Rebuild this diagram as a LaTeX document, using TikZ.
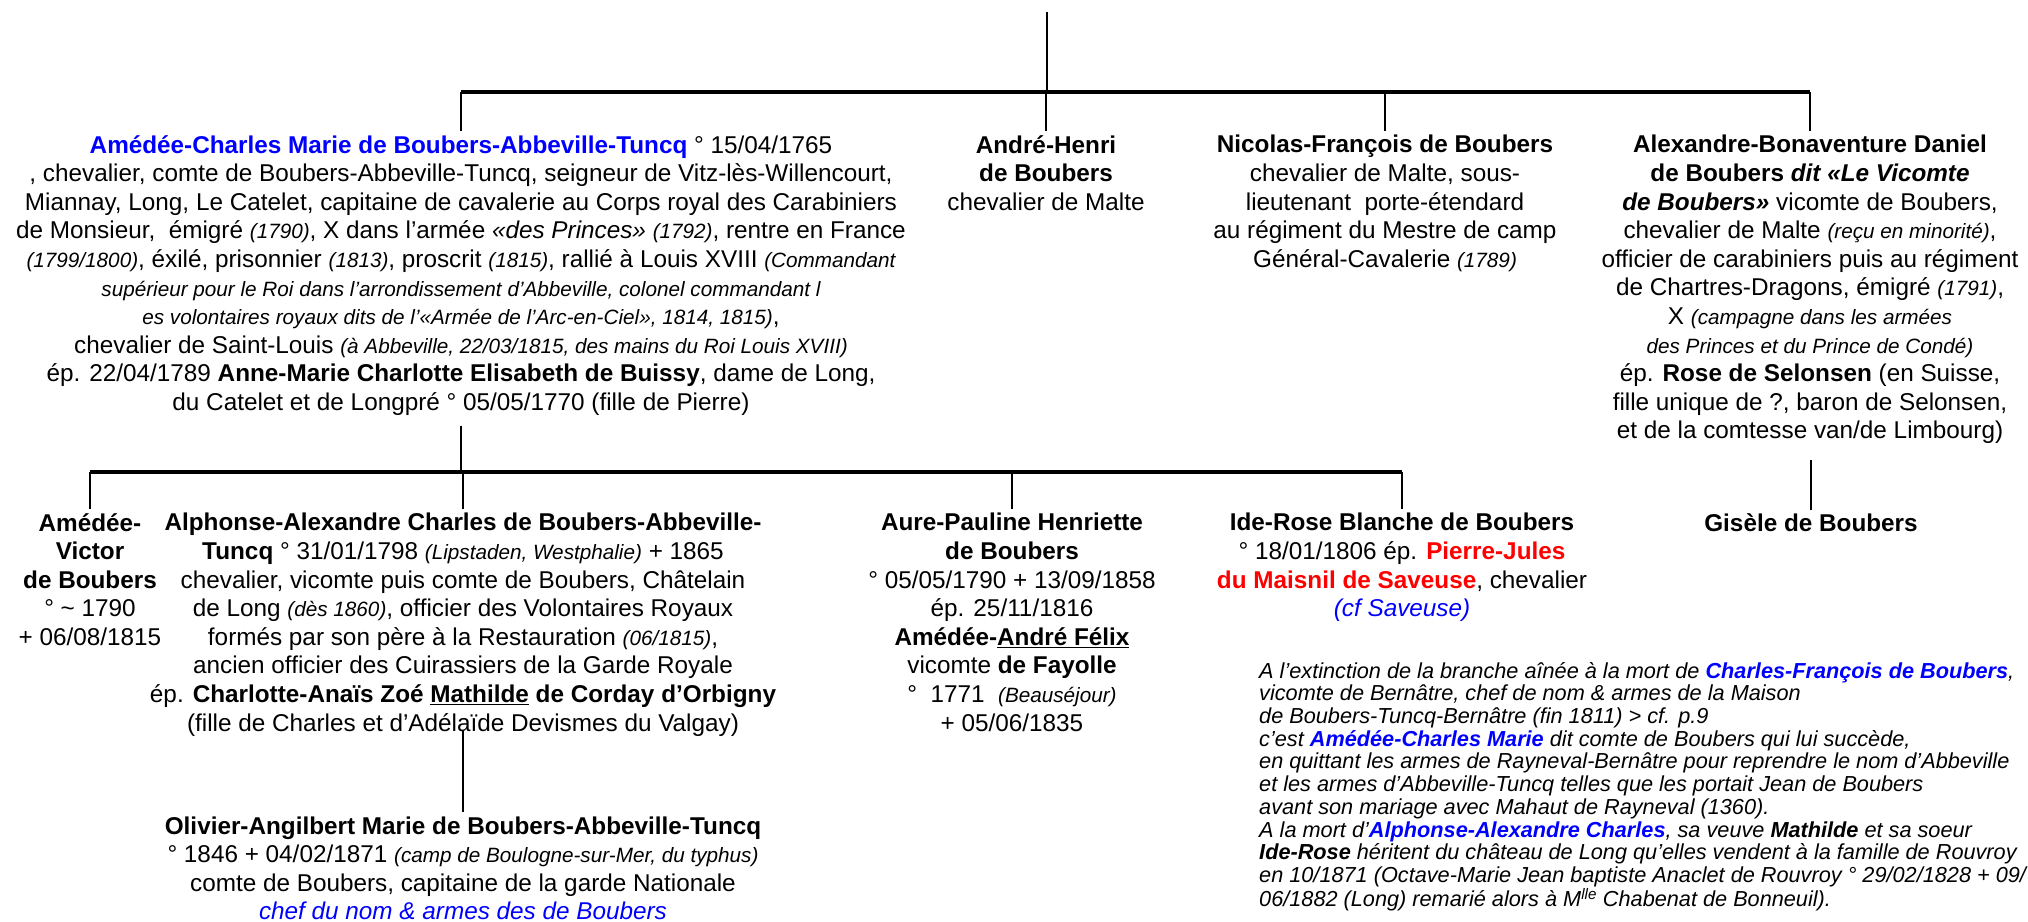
\documentclass[tikz,border=0pt]{standalone}
\usepackage{fontspec}
\setmainfont{Liberation Sans}
\usetikzlibrary{positioning}
\definecolor{nameblue}{RGB}{0,0,255}
\definecolor{namered}{RGB}{255,0,0}
\newcommand{\smit}[1]{{\fontsize{20.7}{28.6}\selectfont\itshape #1}}

\begin{document}
\begin{tikzpicture}[x=1pt, y=-1pt,
    every node/.style={font=\fontsize{24.3}{28.6}\selectfont, align=center, inner sep=0pt},
    person/.style={anchor=north},
    remark/.style={anchor=north west, align=left, font=\fontsize{21.7}{22.7}\selectfont\itshape},
    bar/.style={line width=3.2pt},
    link/.style={line width=2pt},
    drop/.style={link, shorten >=4pt},
  ]
  \useasboundingbox (0,0) rectangle (2028,921);

  % Generation 1: children of the couple above
  \coordinate (parents) at (1047,12);
  \coordinate (fam1) at (1047,92);

  \node[person] (acm) at (461,135)
    {\textbf{\color{nameblue}Amédée-Charles Marie de Boubers-Abbeville-Tuncq} ° 15/04/1765\\
     , chevalier, comte de Boubers-Abbeville-Tuncq, seigneur de Vitz-lès-Willencourt,\\
     Miannay, Long, Le Catelet, capitaine de cavalerie au Corps royal des Carabiniers\\
     de Monsieur,~ émigré \smit{(1790)}, X dans l’armée \textit{«des Princes»} \smit{(1792)}, rentre en France\\
     \smit{(1799/1800)}, éxilé, prisonnier \smit{(1813)}, proscrit \smit{(1815)}, rallié à Louis XVIII \smit{(Commandant}\\
     \smit{supérieur pour le Roi dans l’arrondissement d’Abbeville, colonel commandant l}\\
     \smit{es volontaires royaux dits de l’«Armée de l’Arc-en-Ciel», 1814, 1815)},\\
     chevalier de Saint-Louis \smit{(à Abbeville, 22/03/1815, des mains du Roi Louis XVIII)}\\
     ép. 22/04/1789 \textbf{Anne-Marie Charlotte Elisabeth de Buissy}, dame de Long,\\
     du Catelet et de Longpré ° 05/05/1770 (fille de Pierre)};
  \node[person] (ah) at (1046,135)
    {\textbf{André-Henri}\\ \textbf{de Boubers}\\ chevalier de Malte};
  \node[person] (nf) at (1385,135)
    {\textbf{Nicolas-François de Boubers}\\ chevalier de Malte, sous-\\ lieutenant~ porte-étendard\\
     au régiment du Mestre de camp\\ Général-Cavalerie \smit{(1789)}};
  \node[person] (abd) at (1810,135)
    {\textbf{Alexandre-Bonaventure Daniel}\\
     \textbf{de Boubers \textit{dit «Le Vicomte}}\\
     \textbf{\textit{de Boubers»}} vicomte de Boubers,\\
     chevalier de Malte \smit{(reçu en minorité)},\\
     officier de carabiniers puis au régiment\\
     de Chartres-Dragons, émigré \smit{(1791)},\\
     X \smit{(campagne dans les armées}\\
     \smit{des Princes et du Prince de Condé)}\\
     ép. \textbf{Rose de Selonsen} (en Suisse,\\
     fille unique de ?, baron de Selonsen,\\
     et de la comtesse van/de Limbourg)};

  \draw[link] (parents) -- (fam1);
  \draw[bar] (fam1 -| acm.north) -- (fam1 -| abd.north);
  \foreach \n in {acm, ah, nf, abd}
    \draw[drop] (fam1 -| \n.north) -- (\n.north);

  % Generation 2: children of Amédée-Charles
  \coordinate (fam2) at (463,472);

  \node[person] (av) at (90,513)
    {\textbf{Amédée-}\\ \textbf{Victor}\\ \textbf{de Boubers}\\ ° \textasciitilde{} 1790\\ + 06/08/1815};
  \node[person] (aac) at (463,513)
    {\textbf{Alphonse-Alexandre Charles de Boubers-Abbeville-}\\
     \textbf{Tuncq} ° 31/01/1798 \smit{(Lipstaden, Westphalie)} + 1865\\
     chevalier, vicomte puis comte de Boubers, Châtelain\\
     de Long \smit{(dès 1860)}, officier des Volontaires Royaux\\
     formés par son père à la Restauration \smit{(06/1815)},\\
     ancien officier des Cuirassiers de la Garde Royale\\
     ép. \textbf{Charlotte-Anaïs Zoé \underline{Mathilde} de Corday d’Orbigny}\\
     (fille de Charles et d’Adélaïde Devismes du Valgay)};
  \node[person] (aph) at (1012,513)
    {\textbf{Aure-Pauline Henriette}\\ \textbf{de Boubers}\\ ° 05/05/1790 + 13/09/1858\\
     ép. 25/11/1816\\ \textbf{Amédée-\underline{André Félix}}\\ vicomte \textbf{de Fayolle}\\
     °~ 1771~ \smit{(Beauséjour)}\\ + 05/06/1835};
  \node[person] (irb) at (1402,513)
    {\textbf{Ide-Rose Blanche de Boubers}\\
     ° 18/01/1806 ép. \textbf{\color{namered}Pierre-Jules}\\
     \textbf{\color{namered}du Maisnil de Saveuse}, chevalier\\
     {\color{nameblue}\itshape (cf Saveuse)}};
  \node[person] (gb) at (1811,513) {\textbf{Gisèle de Boubers}};

  \draw[link, shorten <=10pt] (acm.south) -- (acm.south |- fam2);
  \draw[bar] (fam2 -| av.north) -- (fam2 -| irb.north);
  \foreach \n in {av, aac, aph, irb}
    \draw[drop] (fam2 -| \n.north) -- (\n.north);
  \draw[link, shorten <=16pt, shorten >=3pt] (gb.north |- abd.south) -- (gb.north);

  % Generation 3
  \node[person, below=80pt of aac] (oam)
    {\textbf{Olivier-Angilbert Marie de Boubers-Abbeville-Tuncq}\\
     ° 1846 + 04/02/1871 \smit{(camp de Boulogne-sur-Mer, du typhus)}\\
     comte de Boubers, capitaine de la garde Nationale\\
     {\color{nameblue}\itshape chef du nom \& armes des de Boubers}};
  \draw[drop] ([yshift=6pt]aac.south) -- (oam.north);

  % succession note
  \node[remark] (rem) at (1259,662)
    {A l’extinction de la branche aînée à la mort de \textbf{\color{nameblue}Charles-François de Boubers},\\
     vicomte de Bernâtre, chef de nom \& armes de la Maison\\
     de Boubers-Tuncq-Bernâtre (fin 1811) > cf. p.9\\
     c’est \textbf{\color{nameblue}Amédée-Charles Marie} dit comte de Boubers qui lui succède,\\
     en quittant les armes de Rayneval-Bernâtre pour reprendre le nom d’Abbeville\\
     et les armes d’Abbeville-Tuncq telles que les portait Jean de Boubers\\
     avant son mariage avec Mahaut de Rayneval (1360).\\
     A la mort d’\textbf{\color{nameblue}Alphonse-Alexandre Charles}, sa veuve \textbf{Mathilde} et sa soeur\\
     \textbf{Ide-Rose} héritent du château de Long qu’elles vendent à la famille de Rouvroy\\
     en 10/1871 (Octave-Marie Jean baptiste Anaclet de Rouvroy ° 29/02/1828 + 09/\\
     06/1882 (Long) remarié alors à M\textsuperscript{lle} Chabenat de Bonneuil).};
\end{tikzpicture}
\end{document}
